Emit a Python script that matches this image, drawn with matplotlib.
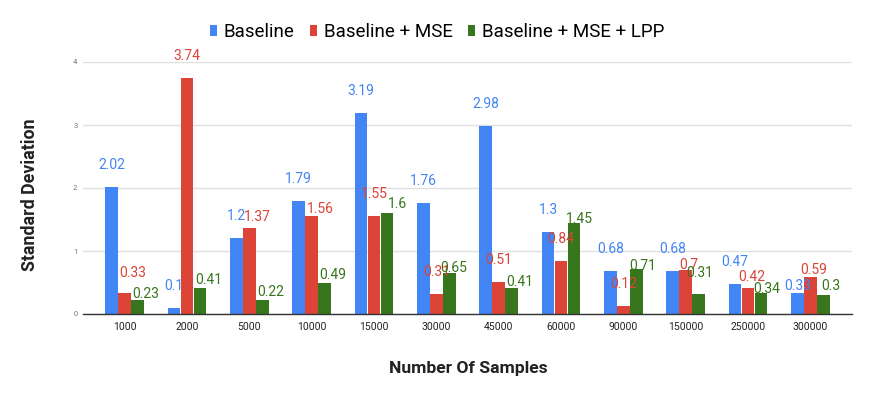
import matplotlib
matplotlib.use("Agg")
import matplotlib.pyplot as plt
import numpy as np

categories = ["1000", "2000", "5000", "10000", "15000", "30000", "45000",
              "60000", "90000", "150000", "250000", "300000"]
baseline = [2.02, 0.1, 1.2, 1.79, 3.19, 1.76, 2.98, 1.3, 0.68, 0.68, 0.47, 0.33]
baseline_mse = [0.33, 3.74, 1.37, 1.56, 1.55, 0.31, 0.51, 0.84, 0.12, 0.7, 0.42, 0.59]
baseline_mse_lpp = [0.23, 0.41, 0.22, 0.49, 1.6, 0.65, 0.41, 1.45, 0.71, 0.31, 0.34, 0.3]
series_names = ["Baseline", "Baseline + MSE", "Baseline + MSE + LPP"]
yticks = [0, 1, 2, 3, 4]

# label placement (pixel offsets from bar top, mimicking collision avoidance)
dy_px = [
    [22, 22, 22, 22, 22, 22, 22, 22, 22, 22, 22, 7],
    [20, 22, 11, 7, 22, 22, 22, 22, 22, 5, 11, 7],
    [6, 8, 8, 8, 9, 5, 6, 4, 3, 21, 4, 9],
]
dx_px = [
    [0] * 12,
    [8, 0, 8, 9, 0, 0, 0, 0, 0, 3, 4, 3],
    [8, 9, 8, 8, 10, 4, 8, 5, 6, 1, 6, 8],
]

colors = ["#4285F4", "#DB4437", "#38761D"]
plt.rcParams['font.family'] = ['Roboto', 'DejaVu Sans']

fig = plt.figure(figsize=(8.72, 3.99), dpi=100)
ax = fig.add_axes([83 / 872, 1 - 314 / 399, (852 - 83) / 872, (314 - 62) / 399])

x = np.arange(len(categories))
step = 0.208
width = 0.203
all_series = [baseline, baseline_mse, baseline_mse_lpp]
handles = []
for i, (vals, col, name) in enumerate(zip(all_series, colors, series_names)):
    pos = x + (i - 1) * step
    b = ax.bar(pos, vals, width=width, color=col, label=name, zorder=3)
    handles.append(b)
    for j, (px, v) in enumerate(zip(pos, vals)):
        ax.annotate(f"{v:g}", (px, v), xytext=(dx_px[i][j], dy_px[i][j]),
                    textcoords="offset pixels", ha="center", va="center",
                    fontsize=10, color=col, annotation_clip=False, zorder=5)

ax.set_xlim(-0.67, len(categories) - 1 + 0.67)
ax.set_ylim(0, 4)
ax.set_yticks(yticks)
ax.set_yticklabels([str(t) for t in yticks], fontsize=5.5, color="#777777")
ax.set_xticks(x)
ax.set_xticklabels(categories, fontsize=7.5, color="#222222")
ax.tick_params(axis="both", length=0, pad=6)
ax.tick_params(axis="y", pad=4)
ax.grid(axis="y", color="#e0e0e0", linewidth=1, zorder=0)
for s in ["top", "right", "left"]:
    ax.spines[s].set_visible(False)
ax.spines["bottom"].set_color("#333333")
ax.spines["bottom"].set_linewidth(1)
ax.spines["bottom"].set_zorder(4)

fig.text(30 / 872, 1 - 195 / 399, "Standard Deviation", rotation=90,
         ha="center", va="center", fontsize=12.8, fontweight="bold", color="#222222")
fig.text(468 / 872, 1 - 368 / 399, "Number Of Samples", ha="center", va="center",
         fontsize=12.6, fontweight="bold", color="#222222")

leg = fig.legend(handles=handles, labels=series_names, loc="center",
                 bbox_to_anchor=(437 / 872, 1 - 32 / 399), ncol=3, frameon=False,
                 fontsize=13.5, handlelength=0.4, handleheight=0.5,
                 handletextpad=0.35, columnspacing=0.8, borderaxespad=0)

fig.savefig("out.png", dpi=100)
